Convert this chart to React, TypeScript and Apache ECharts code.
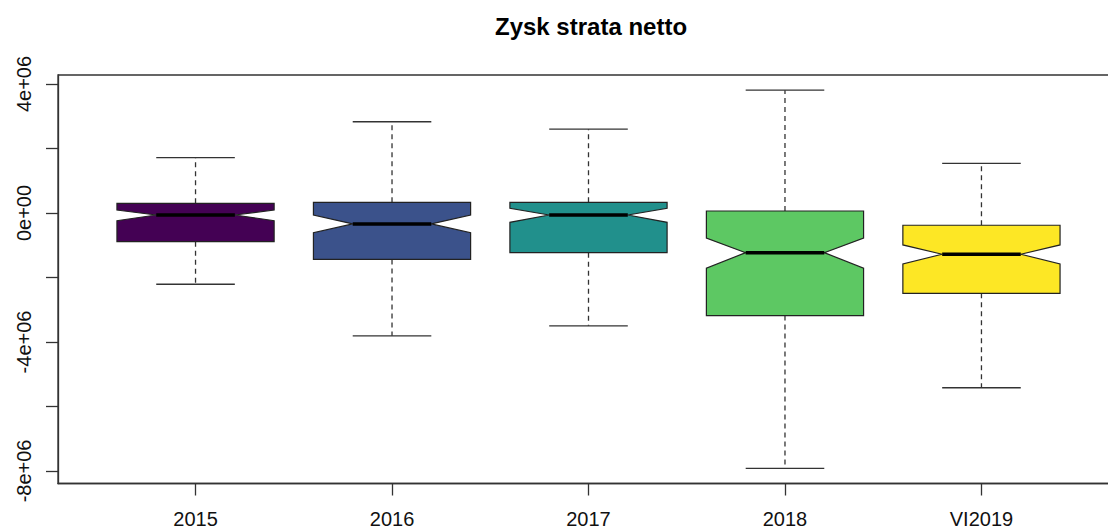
import React, { useEffect, useRef } from "react";
import * as echarts from "echarts";

const categories = ["2015", "2016", "2017", "2018", "VI2019"];
const whiskerLow = [-2.21e6, -3.81e6, -3.5e6, -7.92e6, -5.42e6];
const q1 = [-0.89e6, -1.44e6, -1.23e6, -3.18e6, -2.49e6];
const notchLow = [-0.239e6, -0.61e6, -0.29e6, -1.71e6, -1.58e6];
const median = [-0.062e6, -0.34e6, -0.062e6, -1.23e6, -1.28e6];
const notchHigh = [0.093e6, -0.062e6, 0.145e6, -0.78e6, -0.99e6];
const q3 = [0.3e6, 0.33e6, 0.33e6, 0.062e6, -0.38e6];
const whiskerHigh = [1.715e6, 2.83e6, 2.6e6, 3.81e6, 1.54e6];
const colors = ["#440154", "#3B528B", "#21908C", "#5DC863", "#FDE725"];
const yTicks = [-8e6, -6e6, -4e6, -2e6, 0, 2e6, 4e6];
const yLabels = [-8e6, -4e6, 0, 4e6];

const FONT = "'Liberation Sans', Arial, sans-serif";

function fmtSci(v: number): string {
  if (v === 0) return "0e+00";
  const e = Math.floor(Math.log10(Math.abs(v)) + 1e-9);
  const m = Math.round((v / Math.pow(10, e)) * 100) / 100;
  return `${m}e+${e < 10 ? "0" + e : e}`;
}

export default function App() {
  const ref = useRef<HTMLDivElement>(null);
  useEffect(() => {
    if (!ref.current) return;
    const chart = echarts.init(ref.current, undefined, { renderer: "svg" });
    const dmin = Math.min(...whiskerLow);
    const dmax = Math.max(...whiskerHigh);
    const ext = (dmax - dmin) * 0.04;
    const data = categories.map((c, i) => [
      i + 1,
      whiskerLow[i],
      q1[i],
      notchLow[i],
      median[i],
      notchHigh[i],
      q3[i],
      whiskerHigh[i],
    ]);
    const option: any = {
      animation: false,
      backgroundColor: "#ffffff",
      title: {
        text: "Zysk strata netto",
        left: 490,
        top: 9,
        textStyle: { fontFamily: FONT, fontSize: 24, fontWeight: "bold", color: "#000" },
      },
      grid: {
        left: 58,
        top: 75,
        width: 1061,
        height: 408.5,
        show: true,
        borderColor: "#333",
        borderWidth: 1.3,
        backgroundColor: "transparent",
        outerBoundsMode: "none",
        containLabel: false,
      },
      xAxis: {
        type: "value",
        min: 0.3,
        max: 5.7,
        axisLine: { show: true, onZero: false, lineStyle: { color: "#333", width: 1.3 } },
        axisTick: {
          show: true,
          length: 12,
          customValues: [1, 2, 3, 4, 5],
          lineStyle: { color: "#333", width: 1.3 },
        },
        axisLabel: {
          customValues: [1, 2, 3, 4, 5],
          formatter: (v: number) => categories[Math.round(v) - 1] ?? "",
          fontFamily: FONT,
          fontSize: 20,
          color: "#111",
          margin: 25,
        },
        splitLine: { show: false },
      },
      yAxis: {
        type: "value",
        min: dmin - ext,
        max: dmax + ext,
        axisLine: { show: true, onZero: false, lineStyle: { color: "#333", width: 1.3 } },
        axisTick: {
          show: true,
          length: 12,
          customValues: yTicks,
          lineStyle: { color: "#333", width: 1.3 },
        },
        axisLabel: {
          customValues: yLabels,
          formatter: (v: number) => fmtSci(v),
          rotate: 90,
          fontFamily: FONT,
          fontSize: 20,
          color: "#111",
          margin: 24,
        },
        splitLine: { show: false },
      },
      series: [
        {
          type: "custom",
          clip: false,
          data,
          encode: { x: 0, y: [1, 2, 3, 4, 5, 6, 7] },
          renderItem: (params: any, api: any) => {
            const x = api.value(0);
            const wl = api.value(1);
            const lq = api.value(2);
            const nl = api.value(3);
            const md = api.value(4);
            const nh = api.value(5);
            const uq = api.value(6);
            const wh = api.value(7);
            const c = (xx: number, yy: number) => api.coord([xx, yy]);
            const hw = 0.4;
            const nw = 0.2;
            const poly = [
              c(x - hw, lq),
              c(x - hw, nl),
              c(x - nw, md),
              c(x - hw, nh),
              c(x - hw, uq),
              c(x + hw, uq),
              c(x + hw, nh),
              c(x + nw, md),
              c(x + hw, nl),
              c(x + hw, lq),
            ];
            const i = params.dataIndex;
            const wStyle = { stroke: "#333", lineWidth: 1.3, lineDash: [5, 4] };
            const capStyle = { stroke: "#333", lineWidth: 1.3 };
            const line = (a: number[], b: number[], style: any) => ({
              type: "line",
              shape: { x1: a[0], y1: a[1], x2: b[0], y2: b[1] },
              style,
            });
            return {
              type: "group",
              children: [
                line(c(x, uq), c(x, wh), wStyle),
                line(c(x, lq), c(x, wl), wStyle),
                line(c(x - nw, wh), c(x + nw, wh), capStyle),
                line(c(x - nw, wl), c(x + nw, wl), capStyle),
                {
                  type: "polygon",
                  shape: { points: poly },
                  style: { fill: colors[i], stroke: "#222", lineWidth: 1.2 },
                },
                line(c(x - nw, md), c(x + nw, md), { stroke: "#000", lineWidth: 3.5 }),
              ],
            };
          },
        },
      ],
    };
    chart.setOption(option);
    return () => chart.dispose();
  }, []);
  return (
    <div
      style={{
        position: "absolute",
        left: 0,
        top: 0,
        width: 1108,
        height: 530,
        overflow: "hidden",
        background: "#fff",
      }}
    >
      <div ref={ref} style={{ width: 1130, height: 530 }} />
    </div>
  );
}
